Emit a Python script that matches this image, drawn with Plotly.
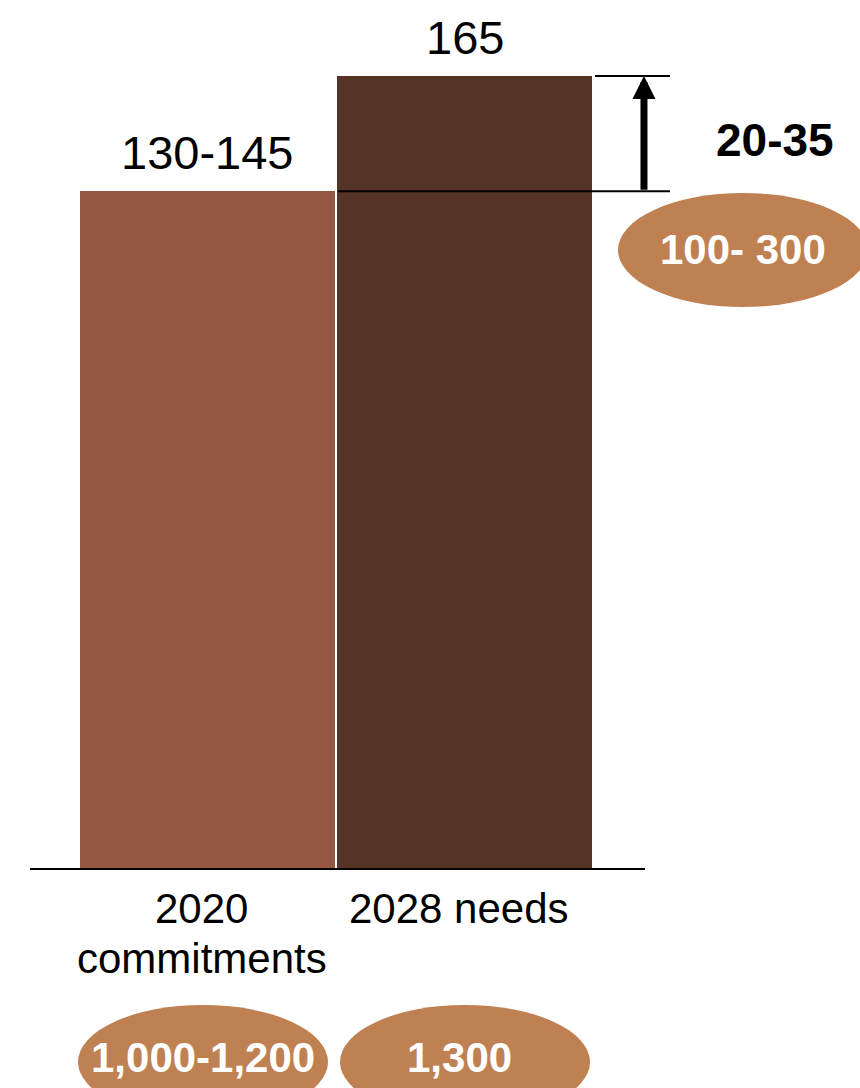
import plotly.graph_objects as go

# ---- data ----
categories = ["2020 commitments", "2028 needs"]
category_lines = [["2020", "commitments"], ["2028 needs"]]
bar_values = [141, 165]          # visual bar heights
bar_labels = ["130-145", "165"]
bar_colors = ["#945741", "#553426"]
gap_label = "20-35"
gap_badge = "100- 300"
bottom_badges = ["1,000-1,200", "1,300"]

W, H = 860, 1088
BADGE = "#BF8152"
FONT = "Liberation Sans, Arial, sans-serif"

# pixel geometry helpers (layout only)
def px_x(p):
    return p / W

def px_y(p):
    return 1 - p / H

fig = go.Figure()
fig.add_trace(go.Bar(
    x=[0, 1], y=bar_values, width=0.992,
    marker=dict(color=bar_colors, line=dict(width=0)),
    hoverinfo="skip", showlegend=False,
))

# axes: category index on x, value on y
fig.update_xaxes(range=[-0.809, 2.537], visible=False, fixedrange=True)
fig.update_yaxes(range=[-45.57, 180.8], visible=False, fixedrange=True)

shapes = []
# baseline
shapes.append(dict(type="line", xref="paper", yref="y", x0=px_x(30), x1=px_x(645),
                   y0=0, y1=0, line=dict(color="black", width=2)))
# bracket lines
shapes.append(dict(type="line", xref="paper", yref="y", x0=px_x(338), x1=px_x(670),
                   y0=bar_values[0], y1=bar_values[0], line=dict(color="black", width=2)))
shapes.append(dict(type="line", xref="paper", yref="y", x0=px_x(595), x1=px_x(670),
                   y0=bar_values[1], y1=bar_values[1], line=dict(color="black", width=2)))
# gap badge ellipse
shapes.append(dict(type="circle", xref="paper", yref="paper", x0=px_x(618), x1=px_x(868),
                   y0=px_y(307), y1=px_y(193), fillcolor=BADGE, line=dict(width=0)))
# bottom badges
for cx in (203, 465):
    shapes.append(dict(type="circle", xref="paper", yref="paper", x0=px_x(cx - 125), x1=px_x(cx + 125),
                       y0=px_y(1119), y1=px_y(1005), fillcolor=BADGE, line=dict(width=0)))

annotations = []
# bar value labels
for i, (v, lab) in enumerate(zip(bar_values, bar_labels)):
    annotations.append(dict(x=i, y=v, xref="x", yref="y", text=lab, showarrow=False,
                            xanchor="center", yanchor="bottom", yshift=10,
                            font=dict(family=FONT, size=47, color="black")))
# arrow
annotations.append(dict(x=1.6965, y=bar_values[1], xref="x", yref="y",
                        ax=1.6965, ay=bar_values[0], axref="x", ayref="y",
                        text="", showarrow=True, arrowhead=2, arrowsize=0.66,
                        arrowwidth=7, arrowcolor="black", standoff=0, startstandoff=0))
# gap label
annotations.append(dict(x=px_x(775), y=px_y(140), xref="paper", yref="paper",
                        text="<b>" + gap_label + "</b>", showarrow=False,
                        xanchor="center", yanchor="middle",
                        font=dict(family=FONT, size=46, color="black")))
annotations.append(dict(x=px_x(743), y=px_y(250), xref="paper", yref="paper",
                        text="<b>" + gap_badge + "</b>", showarrow=False,
                        xanchor="center", yanchor="middle",
                        font=dict(family=FONT, size=42, color="white")))
# category labels
for i, lines in enumerate(category_lines):
    for j, ln in enumerate(lines):
        annotations.append(dict(x=i, y=px_y(908 + 50 * j), xref="x", yref="paper",
                                text=ln, showarrow=False, xshift=-6,
                                xanchor="center", yanchor="middle",
                                font=dict(family=FONT, size=42, color="black")))
# bottom badge labels
for i, lab in enumerate(bottom_badges):
    annotations.append(dict(x=i, y=px_y(1057), xref="x", yref="paper",
                            text="<b>" + lab + "</b>", showarrow=False, xshift=-5,
                            xanchor="center", yanchor="middle",
                            font=dict(family=FONT, size=42, color="white")))

fig.update_layout(
    width=W, height=H, margin=dict(l=0, r=0, t=0, b=0),
    paper_bgcolor="white", plot_bgcolor="white",
    shapes=shapes, annotations=annotations, bargap=0,
)

fig.write_html("out.html", config={"displayModeBar": False})
